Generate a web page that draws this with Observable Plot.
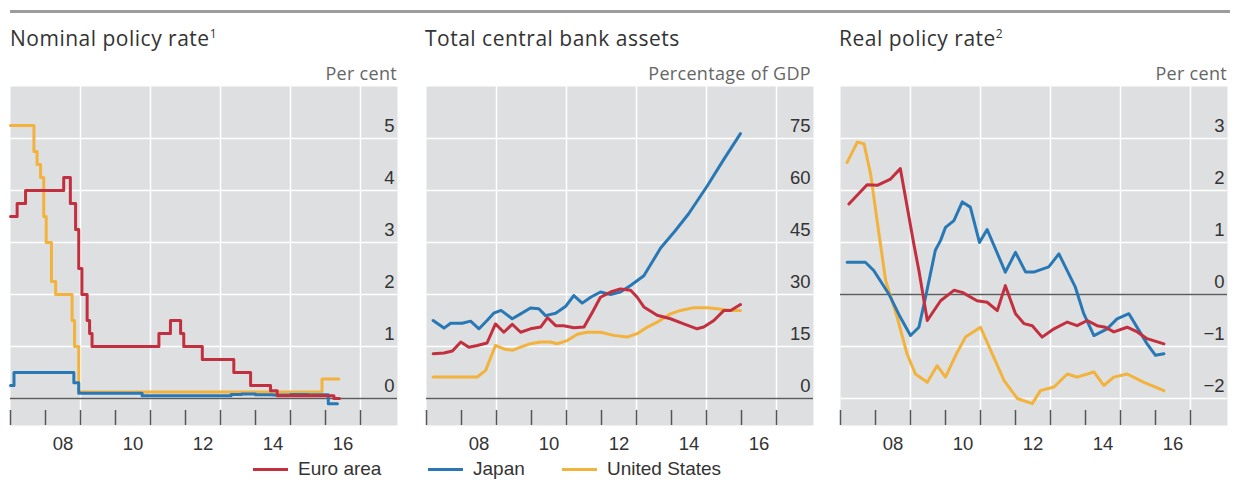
<!DOCTYPE html>
<html>
<head>
<meta charset="utf-8">
<script src="https://cdn.jsdelivr.net/npm/d3@7"></script>
<script src="https://cdn.jsdelivr.net/npm/@observablehq/plot@0.6"></script>
<style>
  html, body { margin: 0; padding: 0; background: #fff; }
  #page { position: relative; width: 1234px; height: 481px; overflow: hidden; }
  .rule { position: absolute; left: 10px; top: 10px; width: 1220px; height: 3px; background: #9c9c9c; }
  .title { position: absolute; top: 24px; font-family: "Open Sans", "Noto Sans", sans-serif; font-size: 21px; letter-spacing: 0.5px; color: #333; white-space: nowrap; line-height: 28px; }
  .title sup { font-size: 12px; vertical-align: 8px; line-height: 0; }
  .unit { position: absolute; top: 61px; font-family: "Open Sans", "Noto Sans", sans-serif; font-size: 18px; letter-spacing: 0.3px; color: #666; text-align: right; white-space: nowrap; line-height: 24px; }
  .panel { position: absolute; top: 86px; }
  .legend { position: absolute; top: 457px; left: 0; width: 1234px; height: 24px; font-family: "Liberation Sans", Arial, sans-serif; font-size: 19px; color: #333; }
  .item { position: absolute; top: 0; display: flex; align-items: center; height: 24px; line-height: 22px; }
  .sw { display: inline-block; width: 35px; height: 3px; margin-right: 10px; }
</style>
</head>
<body>
<div id="page">
  <div class="rule"></div>
  <div class="title" style="left:10px">Nominal policy rate<sup>1</sup></div>
  <div class="title" style="left:425px">Total central bank assets</div>
  <div class="title" style="left:839px">Real policy rate<sup>2</sup></div>
  <div class="unit" style="left:197px;width:200px">Per cent</div>
  <div class="unit" style="left:611px;width:200px">Percentage of GDP</div>
  <div class="unit" style="left:1027px;width:200px">Per cent</div>
  <div class="panel" id="p1" style="left:10px"></div>
  <div class="panel" id="p2" style="left:426px"></div>
  <div class="panel" id="p3" style="left:840px"></div>
  <div class="legend" id="legend"></div>
</div>
<script>
// ---------- Series names & colours ----------
const seriesNames = ["Euro area", "Japan", "United States"];
const seriesColors = ["#c22f3f", "#2878b5", "#f2b23c"];

// ---------- Panel 1: Nominal policy rate (step series, breakpoints) ----------
const euroNominalYears = [2007.0, 2007.19, 2007.43, 2008.52, 2008.71, 2008.86, 2008.95, 2009.04, 2009.19, 2009.26, 2009.33, 2011.24, 2011.57, 2011.86, 2011.95, 2012.48, 2013.38, 2013.86, 2014.43, 2014.62, 2016.24, 2016.4];
const euroNominal      = [3.5, 3.75, 4.0, 4.25, 3.75, 3.25, 2.5, 2.0, 1.5, 1.25, 1.0, 1.25, 1.5, 1.25, 1.0, 0.75, 0.5, 0.25, 0.15, 0.05, 0.0, 0.0];
const japanNominalYears = [2007.0, 2007.1, 2008.81, 2008.95, 2010.76, 2013.3, 2013.6, 2014.0, 2014.5, 2015.0, 2015.5, 2016.08, 2016.34];
const japanNominal      = [0.25, 0.5, 0.3, 0.1, 0.05, 0.075, 0.085, 0.07, 0.065, 0.075, 0.07, -0.1, -0.1];
const usNominalYears = [2007.0, 2007.67, 2007.76, 2007.86, 2007.95, 2008.02, 2008.17, 2008.29, 2008.76, 2008.83, 2008.95, 2015.9, 2016.38];
const usNominal      = [5.25, 4.75, 4.5, 4.25, 3.5, 3.0, 2.25, 2.0, 1.5, 1.0, 0.125, 0.375, 0.375];

// ---------- Panel 2: Total central bank assets, % of GDP ----------
const euroAssetsYears = [2007.19, 2007.5, 2007.74, 2007.98, 2008.21, 2008.45, 2008.73, 2008.97, 2009.21, 2009.45, 2009.69, 2009.97, 2010.26, 2010.46, 2010.69, 2010.92, 2011.21, 2011.5, 2011.74, 2011.97, 2012.26, 2012.54, 2012.83, 2013.02, 2013.21, 2013.59, 2013.97, 2014.35, 2014.73, 2014.92, 2015.21, 2015.5, 2015.69, 2015.97];
const euroAssets      = [12.9, 13.1, 13.7, 16.3, 14.8, 15.3, 16.0, 21.5, 19.1, 21.4, 19.1, 20.1, 20.6, 23.3, 21.0, 21.0, 20.4, 20.6, 24.9, 29.2, 30.7, 31.6, 31.2, 29.2, 26.4, 24.0, 23.0, 21.5, 20.1, 20.6, 22.5, 25.4, 25.4, 27.1];
const japanAssetsYears = [2007.19, 2007.5, 2007.69, 2008.02, 2008.26, 2008.5, 2008.73, 2008.92, 2009.13, 2009.45, 2009.69, 2009.97, 2010.21, 2010.4, 2010.69, 2010.97, 2011.21, 2011.45, 2011.69, 2011.97, 2012.26, 2012.54, 2012.83, 2013.21, 2013.69, 2014.1, 2014.49, 2015.02, 2015.49, 2015.97];
const japanAssets      = [22.5, 20.3, 21.7, 21.7, 22.3, 20.1, 22.5, 24.6, 25.4, 23.0, 24.4, 26.1, 25.9, 23.9, 24.6, 26.5, 29.7, 27.5, 29.2, 30.7, 30.0, 30.7, 32.6, 35.4, 43.4, 48.3, 53.3, 61.3, 68.9, 76.4];
const usAssetsYears = [2007.19, 2007.5, 2008.02, 2008.45, 2008.69, 2008.97, 2009.21, 2009.45, 2009.69, 2009.97, 2010.26, 2010.54, 2010.73, 2011.02, 2011.31, 2011.59, 2011.97, 2012.35, 2012.73, 2013.02, 2013.31, 2013.59, 2013.97, 2014.26, 2014.64, 2015.02, 2015.31, 2015.69, 2015.97];
const usAssets      = [6.2, 6.2, 6.2, 6.2, 8.1, 15.3, 14.3, 13.9, 14.8, 15.8, 16.3, 16.3, 15.8, 16.7, 18.5, 19.1, 19.1, 18.2, 17.7, 18.7, 20.6, 22.0, 24.4, 25.4, 26.2, 26.2, 25.9, 25.4, 25.4];

// ---------- Panel 3: Real policy rate ----------
const euroRealYears = [2007.24, 2007.76, 2008.05, 2008.43, 2008.71, 2009.1, 2009.24, 2009.48, 2009.86, 2010.24, 2010.48, 2010.9, 2011.19, 2011.48, 2011.71, 2012.0, 2012.24, 2012.48, 2012.76, 2013.1, 2013.48, 2013.76, 2014.05, 2014.33, 2014.57, 2014.81, 2015.19, 2015.48, 2015.76, 2016.24];
const euroReal      = [1.74, 2.11, 2.1, 2.22, 2.42, 0.95, 0.46, -0.5, -0.12, 0.08, 0.04, -0.12, -0.15, -0.31, 0.17, -0.37, -0.56, -0.6, -0.82, -0.66, -0.53, -0.6, -0.5, -0.6, -0.63, -0.72, -0.63, -0.72, -0.85, -0.95];
const japanRealYears = [2007.19, 2007.71, 2007.95, 2008.38, 2008.71, 2009.0, 2009.24, 2009.43, 2009.71, 2009.86, 2010.0, 2010.24, 2010.48, 2010.71, 2010.97, 2011.19, 2011.71, 2012.0, 2012.29, 2012.52, 2012.95, 2013.24, 2013.71, 2013.95, 2014.24, 2014.62, 2014.9, 2015.24, 2015.76, 2016.0, 2016.24];
const japanReal      = [0.62, 0.62, 0.46, 0.01, -0.44, -0.79, -0.63, -0.05, 0.85, 1.04, 1.29, 1.42, 1.78, 1.68, 1.0, 1.25, 0.43, 0.81, 0.43, 0.43, 0.53, 0.78, 0.14, -0.37, -0.79, -0.66, -0.47, -0.37, -0.95, -1.17, -1.14];
const usRealYears = [2007.19, 2007.48, 2007.67, 2007.86, 2008.05, 2008.29, 2008.62, 2008.9, 2009.14, 2009.48, 2009.76, 2010.0, 2010.29, 2010.57, 2011.0, 2011.38, 2011.67, 2012.05, 2012.48, 2012.71, 2013.1, 2013.48, 2013.76, 2014.24, 2014.52, 2014.81, 2015.19, 2015.67, 2016.24];
const usReal      = [2.54, 2.93, 2.9, 2.32, 1.4, 0.27, -0.44, -1.14, -1.53, -1.69, -1.37, -1.59, -1.17, -0.82, -0.63, -1.21, -1.65, -2.0, -2.1, -1.85, -1.78, -1.53, -1.59, -1.49, -1.75, -1.59, -1.53, -1.69, -1.85];

// ---------- Axis ticks ----------
const yearTicks = [2007, 2008, 2009, 2010, 2011, 2012, 2013, 2014, 2015, 2016, 2017];
const gridYears = [2009, 2011, 2013, 2015, 2017];
const labelYears = [2008, 2010, 2012, 2014, 2016];
const ticks1 = [0, 1, 2, 3, 4, 5];
const ticks2 = [0, 15, 30, 45, 60, 75];
const ticks3 = [-2, -1, 0, 1, 2, 3];

const toRows = (xs, ys) => xs.map((x, i) => ({x, y: ys[i]}));
const intFmt = d => (d < 0 ? "\u2212" + Math.abs(d) : String(d));

function panel({yDomain, yTicks, series, curve}) {
  const W = 388, H = 374, mb = 35, plotH = H - mb;
  const [y0, y1] = yDomain;
  const tickTop = y0 + (y1 - y0) * 15 / plotH;
  return Plot.plot({
    width: W, height: H,
    marginLeft: 0, marginRight: 1, marginTop: 0, marginBottom: mb,
    x: {domain: [2007, 2018.057]},
    y: {domain: yDomain},
    style: {fontFamily: "'Liberation Sans', Arial, sans-serif", fontSize: "18.5px", color: "#333", background: "transparent", overflow: "visible"},
    marks: [
      Plot.frame({fill: "#dedfe1", stroke: null}),
      Plot.ruleX(gridYears, {stroke: "#fff", strokeWidth: 1.5}),
      Plot.ruleY(yTicks, {stroke: "#fff", strokeWidth: 1.5}),
      Plot.ruleY([0], {stroke: "#5c5c5c", strokeWidth: 1.5}),
      Plot.ruleX(yearTicks, {y1: y0, y2: tickTop, stroke: "#555", strokeWidth: 1.5}),
      Plot.axisX({ticks: labelYears.map(d => d + 0.5), tickFormat: d => String(Math.floor(d) % 100).padStart(2, "0"), tickSize: 0, tickPadding: 11, label: null}),
      Plot.axisY({anchor: "right", ticks: yTicks, tickFormat: intFmt, tickSize: 0, tickPadding: 0, textAnchor: "end", dx: -3, dy: -12, label: null}),
      ...series.map(s => Plot.line(s.rows, {x: "x", y: "y", stroke: s.color, strokeWidth: 3, curve, strokeLinejoin: "round"}))
    ]
  });
}

const order = [2, 1, 0]; // draw US, Japan, then Euro on top
function mk(rowsList) { return order.map(i => ({rows: rowsList[i], color: seriesColors[i]})); }

document.getElementById("p1").append(panel({
  yDomain: [-0.52, 6.0], yTicks: ticks1, curve: "step-after",
  series: mk([toRows(euroNominalYears, euroNominal), toRows(japanNominalYears, japanNominal), toRows(usNominalYears, usNominal)])
}));
document.getElementById("p2").append(panel({
  yDomain: [-7.8, 90], yTicks: ticks2, curve: "linear",
  series: mk([toRows(euroAssetsYears, euroAssets), toRows(japanAssetsYears, japanAssets), toRows(usAssetsYears, usAssets)])
}));
document.getElementById("p3").append(panel({
  yDomain: [-2.52, 4.0], yTicks: ticks3, curve: "linear",
  series: mk([toRows(euroRealYears, euroReal), toRows(japanRealYears, japanReal), toRows(usRealYears, usReal)])
}));

// ---------- Legend ----------
const legendLeft = [253, 428, 562];
const legend = document.getElementById("legend");
seriesNames.forEach((name, i) => {
  const item = document.createElement("div");
  item.className = "item";
  item.style.left = legendLeft[i] + "px";
  const sw = document.createElement("span");
  sw.className = "sw";
  sw.style.background = seriesColors[i];
  item.append(sw, document.createTextNode(name));
  legend.append(item);
});
</script>
</body>
</html>
